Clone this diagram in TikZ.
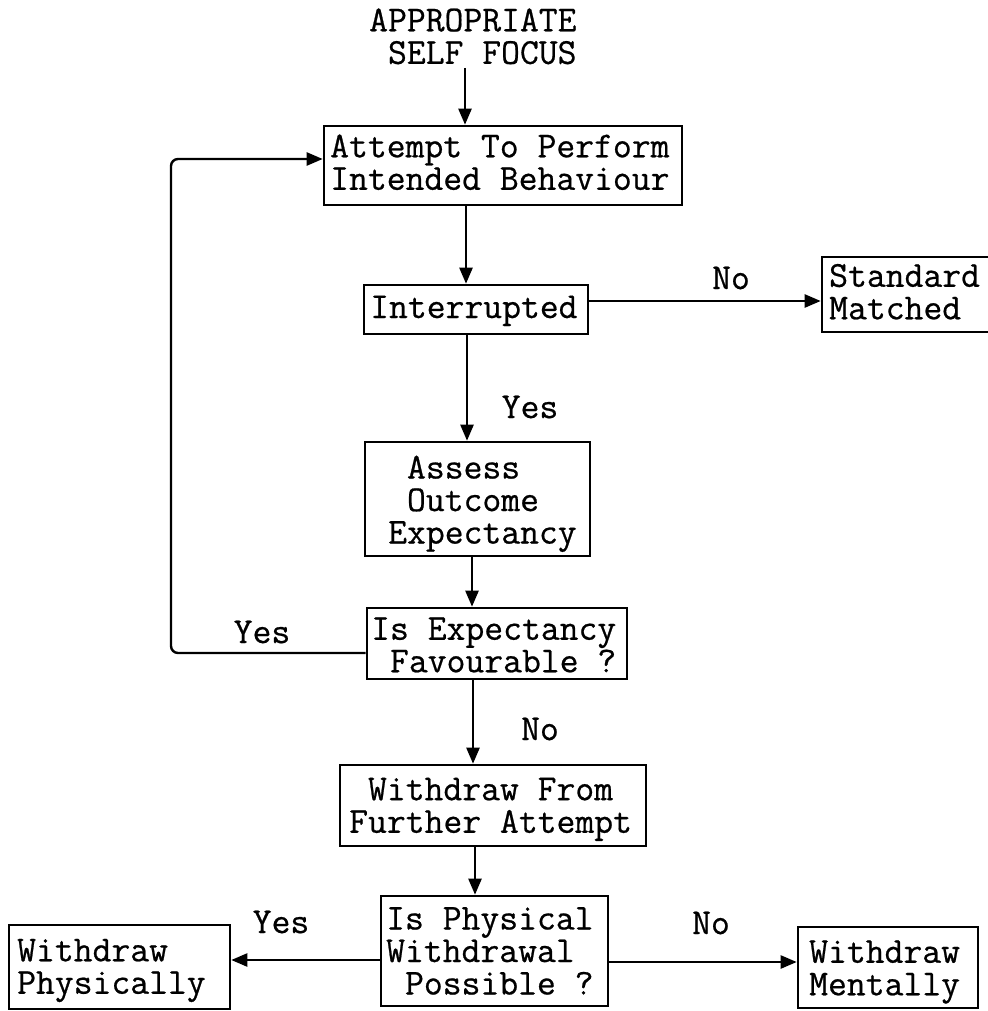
\documentclass[tikz,border=0pt]{standalone}
\usepackage{fontspec}
\newfontfamily\typew[FakeBold=0.6]{Latin Modern Mono}
\usetikzlibrary{arrows.meta}
% stacked lines of typewriter text with a fixed line pitch
\newcommand{\tlines}[1]{\begin{tabular}{@{}l@{}}#1\end{tabular}}

\begin{document}
\begin{tikzpicture}[x=1pt,y=-1pt,
  box/.style={draw, line width=2.6pt, rectangle, inner sep=0pt},
  txt/.style={inner sep=0pt, anchor=west, font=\typew\fontsize{36.6}{32.5}\selectfont},
  lbl/.style={inner sep=0pt, font=\typew\fontsize{36.6}{32.5}\selectfont},
  link/.style={line width=2.4pt, -{Triangle[length=16pt,width=13pt]}},
]
\useasboundingbox[fill=white] (0,0) rectangle (987,1011);

% boxes
\node[box, minimum width=358pt, minimum height=79pt]  (attempt)     at (503,165.5) {};
\node[box, minimum width=224pt, minimum height=49pt]  (interrupted) at (476,309.5) {};
\node[box, minimum width=170pt, minimum height=75pt]  (standard)    at (907,294.5) {};
\node[box, minimum width=225pt, minimum height=114pt] (assess)      at (477.5,499) {};
\node[box, minimum width=260pt, minimum height=71pt]  (expect)      at (497,643.5) {};
\node[box, minimum width=306pt, minimum height=81pt]  (withdraw)    at (493,805.5) {};
\node[box, minimum width=227pt, minimum height=110pt] (physical)    at (494.5,951) {};
\node[box, minimum width=221pt, minimum height=84pt]  (physically)  at (119.5,967) {};
\node[box, minimum width=180pt, minimum height=81pt]  (mentally)    at (888,967.5) {};

% box texts
\node[txt] (focus-t)       at (369,41)    {\tlines{APPROPRIATE\\~SELF FOCUS}};
\node[txt] (attempt-t)     at (330,167)   {\tlines{Attempt To Perform\\Intended Behaviour}};
\node[txt] (interrupted-t) at (370,311.5) {\tlines{Interrupted}};
\node[txt] (standard-t)    at (829,296.5) {\tlines{Standard\\Matched}};
\node[txt] (assess-t)      at (388,504.5) {\tlines{~Assess\\~Outcome\\Expectancy}};
\node[txt] (expect-t)      at (371,649.5) {\tlines{Is Expectancy\\~Favourable ?}};
\node[txt] (withdraw-t)    at (349,810)   {\tlines{~Withdraw From\\Further Attempt}};
\node[txt] (physical-t)    at (386,955.5) {\tlines{Is Physical\\Withdrawal\\~Possible ?}};
\node[txt] (physically-t)  at (17,971)    {\tlines{Withdraw\\Physically}};
\node[txt] (mentally-t)    at (809,972.5) {\tlines{Withdraw\\Mentally}};

% branch labels
\node[lbl] (no1)  at (731,278) {No};
\node[lbl] (yes1) at (530,407) {Yes};
\node[lbl] (yes2) at (262,632) {Yes};
\node[lbl] (no2)  at (540,729) {No};
\node[lbl] (yes3) at (281,922) {Yes};
\node[lbl] (no3)  at (711,923) {No};

% helper coordinates for the connector runs
\coordinate (start) at (465,68);
\coordinate (s1) at (466,0);
\coordinate (s2) at (467,0);
\coordinate (s3) at (472,0);
\coordinate (s4) at (473,0);
\coordinate (s5) at (475,0);
\coordinate (r1) at (0,301);
\coordinate (r2) at (0,653);
\coordinate (lp) at (171,159);
\coordinate (r4) at (0,960);
\coordinate (r5) at (0,962);

% connectors
\draw[link] (start) -- (start |- attempt.north);
\draw[link] (attempt.south -| s1) -- (interrupted.north -| s1);
\draw[link] (interrupted.east |- r1) -- (standard.west |- r1);
\draw[link] (interrupted.south -| s2) -- (assess.north -| s2);
\draw[link] (assess.south -| s3) -- (expect.north -| s3);
\draw[link, rounded corners=7pt] (expect.west |- r2) -| (lp) -- (attempt.west |- lp);
\draw[link] (expect.south -| s4) -- (withdraw.north -| s4);
\draw[link] (withdraw.south -| s5) -- (physical.north -| s5);
\draw[link] (physical.west |- r4) -- (physically.east |- r4);
\draw[link] (physical.east |- r5) -- (mentally.west |- r5);
\end{tikzpicture}
\end{document}
